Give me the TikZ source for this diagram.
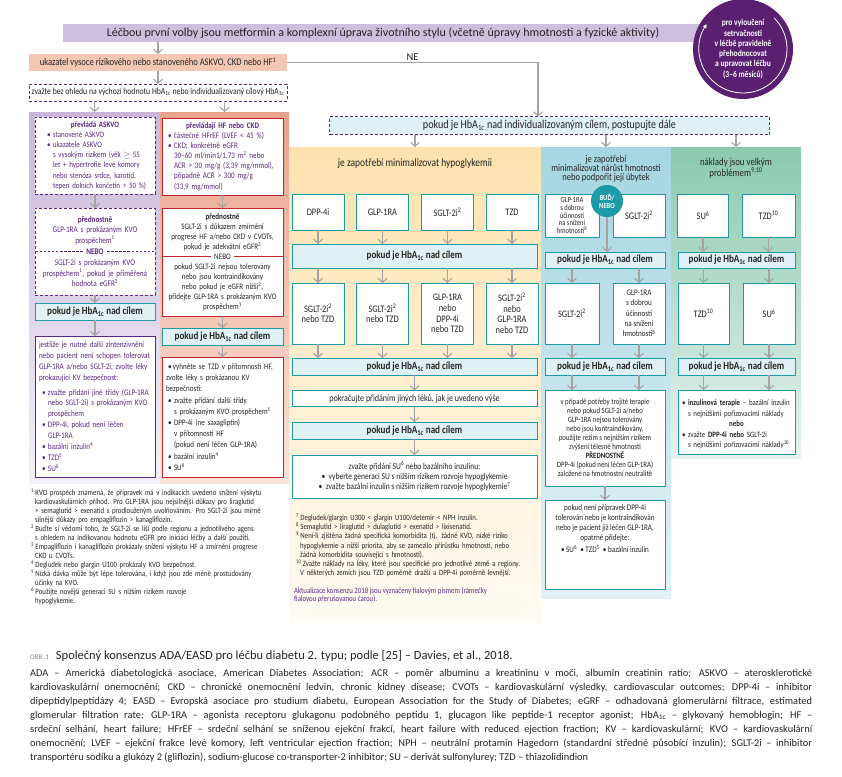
\documentclass[tikz,border=0pt]{standalone}
\usepackage{fontspec}
\setmainfont{Carlito}[FakeStretch=0.84]
\newfontfamily\widefont{Carlito}
\usetikzlibrary{arrows.meta}

\definecolor{lavc}{HTML}{CDBFDE}
\definecolor{circc}{HTML}{5A1F70}
\definecolor{salc}{HTML}{F4C7B5}
\definecolor{purpc}{HTML}{5A2882}
\definecolor{tealc}{HTML}{1C9AA6}
\definecolor{cyanl}{HTML}{DFF1F4}
\definecolor{redc}{HTML}{C1272D}
\definecolor{arrowc}{HTML}{A3A3A3}
\definecolor{txtc}{HTML}{232323}
\definecolor{lavtop}{HTML}{C8B7DB}
\definecolor{lavbot}{HTML}{F4F0F8}
\definecolor{saltop}{HTML}{E9A38C}
\definecolor{salbot}{HTML}{FBE3DA}
\definecolor{yeltop}{HTML}{FDE2AE}
\definecolor{yelbot}{HTML}{FFFBF3}
\definecolor{blutop}{HTML}{A5D6E1}
\definecolor{blubot}{HTML}{E2F1F5}
\definecolor{grntop}{HTML}{8BC9AF}
\definecolor{grnbot}{HTML}{E6F2EE}

\newcommand\fs[2]{\fontsize{#1}{#2}\selectfont}
\newcommand\hba{HbA\textsubscript{1c}}
\newcommand\sups[1]{\textsuperscript{#1}}
\newcommand\itm[1][0pt]{\par\noindent\hangindent=\dimexpr#1+6pt\relax\hangafter=1\hspace*{#1}\makebox[6pt][l]{\textbullet}}
\newcommand\dashfill{\xleaders\hbox to 4pt{\hss\rule[2.6pt]{2.5pt}{0.7pt}\hss}\hfill}
\newcommand\solidfill{\leaders\hrule height 3.1pt depth -2.5pt\hfill}
\newcommand\fnote[1]{\par\noindent\hangindent=4pt\hangafter=1\textsuperscript{#1}\,}

\begin{document}
\begin{tikzpicture}[x=1pt, y=-1pt,
    boxbase/.style = {inner sep=0pt, outer sep=0pt, line width=0.9pt, align=center, text=txtc},
    wh/.style 2 args = {minimum width=#1pt, minimum height=#2pt},
    tealbox/.style = {boxbase, draw=tealc, fill=cyanl, font=\bfseries\fs{10.8}{12}},
    whitebox/.style = {boxbase, draw=tealc, fill=white, font=\fs{10}{10.7}},
    dashbox/.style = {boxbase, draw=purpc, fill=white, dash pattern=on 3pt off 2pt},
    redbox/.style = {boxbase, draw=redc, fill=white},
    purbox/.style = {boxbase, draw=purpc, fill=white},
    colbg/.style = {inner sep=0pt, outer sep=0pt},
    arr/.style = {draw=arrowc, line width=1.1pt, -{Straight Barb[length=4pt, width=9pt]}},
    note/.style = {inner sep=0pt, anchor=north west, align=left, text=txtc}]
\useasboundingbox (0,0) rectangle (842,776);

% column backgrounds
\node[colbg, wh={131}{371}, top color=lavtop, bottom color=lavbot] (colL) at (94.5,297.5) {};
\node[colbg, wh={129}{371}, top color=saltop, bottom color=salbot] (colR) at (224.5,297.5) {};
\node[colbg, wh={252}{475}, top color=yeltop, bottom color=yelbot] (colY) at (415,384.5) {};
\node[colbg, wh={130}{451}, top color=blutop, bottom color=blubot] (colB) at (606,372.5) {};
\node[colbg, wh={130}{311}, top color=grntop, bottom color=grnbot] (colG) at (736,302.5) {};

% top
\node[boxbase, fill=lavc, wh={637}{18}] (vol) at (381.5,33) {};
\node[inner sep=0pt, text=txtc, font=\widefont\fs{12}{13}] (voltxt) at (383,33)
  {Léčbou první volby jsou metformin a komplexní úprava životního stylu (včetně úpravy hmotnosti a fyzické aktivity)};
\node[circle, fill=circc, minimum size=100pt, inner sep=0pt, text=white, align=center,
      font=\bfseries\fs{9}{10.3}] (rev) at (743,49)
  {pro vyloučení\\ setrvačnosti\\ v léčbě pravidelně\\ přehodnocovat\\ a upravovat léčbu\\ (3–6 měsíců)};
\draw[white, line width=0.8pt, -{Stealth[length=4pt, width=4.5pt]}]
  ([shift={(-45:44)}]rev.center) arc[start angle=-45, end angle=214, radius=44];

\node[boxbase, fill=salc, wh={258}{17}, font=\fs{10.2}{12}] (ukaz) at (158,62.5)
  {ukazatel vysoce rizikového nebo stanoveného ASKVO, CKD nebo HF\sups{1}};
\node[dashbox, wh={258}{17}, font=\fs{9.2}{11}] (zvaz) at (158,92.5)
  {zvažte bez ohledu na výchozí hodnotu \hba{} nebo individualizovaný cílový \hba};
\node[dashbox, fill=cyanl, wh={440}{18}, font=\fs{12}{12}] (pokudInd) at (549.5,125.5)
  {pokud je \hba{} nad individualizovaným cílem, postupujte dále};

% ASKVO column
\node[dashbox, wh={120}{77}, inner xsep=3pt, text width=114pt, align=left, text=purpc,
      font=\fs{8.3}{10.2}] (askvo) at (95,155.5)
  {\centerline{\bfseries převládá ASKVO}
   \itm[9pt]stanovené ASKVO
   \itm[9pt]ukazatele ASKVO\newline s vysokým rizikem (věk $\geq$ 55\newline let + hypertrofie levé komory\newline
     nebo stenóza srdce, karotid,\newline tepen dolních končetin >~50~\%)\par};
\node[dashbox, wh={120}{87}, text width=120pt, text=purpc, font=\fs{8.6}{10.8}] (pred1) at (95,251.5)
  {\textbf{přednostně}\\ GLP-1RA s prokázaným KVO\\ prospěchem\sups{1}\\
   \makebox[\linewidth]{\dashfill\ \textbf{NEBO}\ \dashfill}\\
   SGLT-2i s prokázaným KVO\\ prospěchem\sups{1}, pokud je přiměřená\\ hodnota eGFR\sups{2}};
\node[tealbox, wh={120}{17}] (pokudL1) at (95,311.5) {pokud je \hba{} nad cílem};
\node[purbox, wh={120}{141}, inner xsep=4pt, text width=112pt, align=left, text=purpc,
      font=\fs{8.5}{10.9}] (intensL) at (95,406.5)
  {jestliže je nutné další zintenzivnění\\ nebo pacient není schopen tolerovat\\
   GLP-1RA a/nebo SGLT-2i, zvolte léky\\ prokazující KV bezpečnost:\par\vspace{4pt}
   \itm[3pt]zvažte přidání jiné třídy (GLP-1RA\newline nebo SGLT-2i) s prokázaným KVO\newline prospěchem
   \itm[3pt]DPP-4i, pokud není léčen\newline GLP-1RA
   \itm[3pt]bazální inzulin\sups{4}
   \itm[3pt]TZD\sups{5}
   \itm[3pt]SU\sups{6}\par};

% HF / CKD column
\node[redbox, wh={121}{77}, inner xsep=4pt, text width=113pt, align=left, text=purpc,
      font=\fs{8.5}{10.1}] (hfckd) at (222.5,156.5)
  {\centerline{\bfseries převládají HF nebo CKD}
   \itm[2pt]částečné HFrEF (LVEF < 45~\%)
   \itm[2pt]CKD; konkrétně eGFR\newline 30–60 ml/min1/1,73 m\sups{2} nebo\newline ACR > 30 mg/g (3,39 mg/mmol),\newline
     případně ACR > 300 mg/g\newline (33,9 mg/mmol)\par};
\node[redbox, wh={121}{108}, text width=121pt, font=\fs{8.4}{10}] (pred2) at (222.5,262)
  {\textbf{přednostně}\\ SGLT-2i s důkazem zmírnění\\ progrese HF a/nebo CKD v CVOTs,\\ pokud je adekvátní eGFR\sups{3}\\
   \makebox[\linewidth]{{\color{redc}\solidfill}\ NEBO\ {\color{redc}\solidfill}}\\
   pokud SGLT-2i nejsou tolerovány\\ nebo jsou kontraindikovány\\ nebo pokud je eGFR nižší\sups{2},\\
   přidejte GLP-1RA s prokázaným KVO\\ prospěchem\sups{1}};
\node[tealbox, wh={121}{17}] (pokudR1) at (222.5,336.5) {pokud je \hba{} nad cílem};
\node[redbox, wh={121}{120}, inner xsep=4pt, text width=113pt, align=left, font=\fs{8.4}{11.2}] (avoid) at (222.5,417)
  {\noindent\hspace*{2pt}\makebox[5pt][l]{\textbullet}vyhněte se TZD v přítomnosti HF,\\ zvolte léky s prokázanou KV\\ bezpečností:
   \itm[2pt]zvažte přidání další třídy\newline s prokázaným KVO prospěchem\sups{1}
   \itm[2pt]DPP-4i (ne saxagliptin)\newline v přítomnosti HF\newline (pokud není léčen GLP-1RA)
   \itm[2pt]bazální inzulin\sups{4}
   \itm[2pt]SU\sups{6}\par};

% hypoglykemie column
\node[inner sep=0pt, text=txtc, font=\fs{11.3}{12}] (hdrY) at (415,164) {je zapotřebí minimalizovat hypoglykemii};
\node[whitebox, wh={52}{36}] (y1a) at (318,212) {DPP-4i};
\node[whitebox, wh={52}{36}] (y1b) at (382.5,212) {GLP-1RA};
\node[whitebox, wh={52}{36}] (y1c) at (447.5,212) {SGLT-2i\sups{2}};
\node[whitebox, wh={52}{36}] (y1d) at (512,212) {TZD};
\node[tealbox, wh={245}{24}] (pokudY1) at (414.5,256) {pokud je \hba{} nad cílem};
\node[whitebox, wh={52}{61}] (y2a) at (318,313.5) {SGLT-2i\sups{2}\\ nebo TZD};
\node[whitebox, wh={52}{61}] (y2b) at (382.5,313.5) {SGLT-2i\sups{2}\\ nebo TZD};
\node[whitebox, wh={52}{61}] (y2c) at (447.5,313.5) {GLP-1RA\\ nebo\\ DPP-4i\\ nebo TZD};
\node[whitebox, wh={52}{61}] (y2d) at (512,313.5) {SGLT-2i\sups{2}\\ nebo\\ GLP-1RA\\ nebo TZD};
\node[tealbox, wh={245}{17}] (pokudY2) at (414.5,366.5) {pokud je \hba{} nad cílem};
\node[whitebox, wh={245}{16}, font=\fs{9.6}{10}] (contY) at (414.5,398.5) {pokračujte přidáním jiných léků, jak je uvedeno výše};
\node[tealbox, wh={245}{17}] (pokudY3) at (414.5,430.5) {pokud je \hba{} nad cílem};
\node[whitebox, wh={245}{43}, font=\fs{9}{10.2}] (suY) at (414.5,476.5)
  {zvažte přidání SU\sups{6} nebo bazálního inzulinu:\\
   \textbullet\ \ vyberte generaci SU s nižším rizikem rozvoje hypoglykemie\\
   \textbullet\ \ zvažte bazální inzulin s nižším rizikem rozvoje hypoglykemie\sups{7}};
\node[note, text width=270pt, font=\fs{8.1}{9.2}] (notesM) at (296,511)
  {\fnote{7}Degludek/glargin U300 < glargin U100/detemir < NPH inzulin.
   \fnote{8}Semaglutid > liraglutid > dulaglutid > exenatid > lixisenatid.
   \fnote{9}Není-li zjištěna žádná specifická komorbidita (tj. žádné KVO, nízké riziko\newline
     hypoglykemie a nižší priorita, aby se zamezilo přírůstku hmotnosti, nebo\newline
     žádná komorbidita související s hmotností).
   \fnote{10}Zvažte náklady na léky, které jsou specifické pro jednotlivé země a regiony.\newline
     V některých zemích jsou TZD poměrně dražší a DPP-4i poměrně levnější.\par};
\node[note, text=purpc, font=\fs{8.1}{8.8}] (akt) at (294,587)
  {Aktualizace konsenzu 2018 jsou vyznačeny fialovým písmem (rámečky\\ fialovou přerušovanou čarou).};

% hmotnost column
\node[inner sep=0pt, align=center, text=txtc, font=\fs{10.1}{9.2}] (hdrB) at (606,169)
  {je zapotřebí\\ minimalizovat nárůst hmotnosti\\ nebo podpořit její úbytek};
\node[whitebox, wh={54}{43}, font=\fs{7.8}{7.8}] (b1a) at (572,215.5)
  {GLP-1RA\\ s dobrou\\ účinností\\ na snížení\\ hmotnosti\sups{8}};
\node[whitebox, wh={52}{43}] (b1b) at (639,215.5) {SGLT-2i\sups{2}};
\node[circle, fill=tealc, minimum size=32pt, inner sep=0pt, text=white, align=center,
      font=\bfseries\fs{7.8}{8}] (bud) at (607,201) {BUĎ/\\NEBO};
\node[tealbox, wh={120}{16}] (pokudB1) at (605,260) {pokud je \hba{} nad cílem};
\node[whitebox, wh={54}{61}] (b2a) at (572,313.5) {SGLT-2i\sups{2}};
\node[whitebox, wh={52}{61}, font=\fs{8.5}{10.3}] (b2b) at (639,313.5)
  {GLP-1RA\\ s dobrou\\ účinností\\ na snížení\\ hmotnosti\sups{8}};
\node[tealbox, wh={120}{17}] (pokudB2) at (605,366.5) {pokud je \hba{} nad cílem};
\node[whitebox, wh={120}{96}, font=\fs{8.1}{9}] (tripB) at (605,438)
  {v případě potřeby trojité terapie\\ nebo pokud SGLT-2i a/nebo\\ GLP-1RA nejsou tolerovány\\
   nebo jsou kontraindikovány,\\ použijte režim s nejnižším rizikem\\ zvýšení tělesné hmotnosti\\
   \textbf{PŘEDNOSTNĚ}\\ DPP-4i (pokud není léčen GLP-1RA)\\ založené na hmotnostní neutralitě};
\node[whitebox, wh={120}{89}] (dppB) at (605,544.5) {};
\node[inner sep=0pt, anchor=north, align=center, text=txtc, font=\fs{8.5}{10}] (dppT) at ([yshift=-4pt]dppB.north)
  {pokud není přípravek DPP-4i\\ tolerován nebo je kontraindikován\\ nebo je pacient již léčen GLP-1RA,\\
   opatrně přidejte:\\[2pt] \textbullet\ SU\sups{6}\ \ \textbullet\ TZD\sups{5}\ \ \textbullet\ bazální inzulin};

% naklady column
\node[inner sep=0pt, align=center, text=txtc, font=\fs{10.5}{10}] (hdrG) at (736,168)
  {náklady jsou velkým\\ problémem\sups{9,10}};
\node[whitebox, wh={51}{43}] (g1a) at (703,215.5) {SU\sups{6}};
\node[whitebox, wh={53}{43}] (g1b) at (768.5,215.5) {TZD\sups{10}};
\node[tealbox, wh={117}{16}] (pokudG1) at (736.5,260) {pokud je \hba{} nad cílem};
\node[whitebox, wh={51}{61}] (g2a) at (703.5,313.5) {TZD\sups{10}};
\node[whitebox, wh={52}{61}] (g2b) at (769,313.5) {SU\sups{6}};
\node[tealbox, wh={117}{17}] (pokudG2) at (736.5,366.5) {pokud je \hba{} nad cílem};
\node[whitebox, wh={117}{64}, inner xsep=3pt, text width=111pt, align=left, font=\fs{8.2}{10.5}] (insG) at (736.5,422)
  {\itm[1pt]\textbf{inzulinová terapie} – bazální inzulin\newline s nejnižšími pořizovacími náklady
   \par\centerline{\textbf{nebo}}
   \itm[1pt]zvažte \textbf{DPP-4i nebo} SGLT-2i\newline s nejnižšími pořizovacími náklady\sups{10}\par};

% footnotes and caption
\node[note, text width=262pt, font=\fs{8.1}{9}] (notesL) at (31,486)
  {\fnote{1}KVO prospěch znamená, že přípravek má v indikacích uvedeno snížení výskytu\newline
     kardiovaskulárních příhod. Pro GLP-1RA jsou nejsilnější důkazy pro liraglutid\newline
     > semaglutid > exenatid s prodlouženým uvolňováním. Pro SGLT-2i jsou mírně\newline
     silnější důkazy pro empagliflozin > kanagliflozin.
   \fnote{2}Buďte si vědomi toho, že SGLT-2i se liší podle regionu a jednotlivého agens\newline
     s ohledem na indikovanou hodnotu eGFR pro iniciaci léčby a další použití.
   \fnote{3}Empagliflozin i kanagliflozin prokázaly snížení výskytu HF a zmírnění progrese\newline
     CKD u CVOTs.
   \fnote{4}Degludek nebo glargin U100 prokázaly KVO bezpečnost.
   \fnote{5}Nízká dávka může být lépe tolerována, i když jsou zde méně prostudovány\newline
     účinky na KVO.
   \fnote{6}Použijte novější generaci SU s nižším rizikem rozvoje\newline hypoglykemie.\par};
\node[inner sep=0pt, anchor=base west, text=txtc] (cap) at (30,659)
  {{\widefont\fs{7}{8}\color{gray}OBR.\,1}\hspace{7pt}{\widefont\fs{12.5}{14}Společný konsenzus ADA/EASD pro léčbu diabetu 2. typu; podle [25] – Davies, et al., 2018.}};
\node[note, text width=782pt, align=justify, font=\widefont\fs{10.4}{14}] (legend) at (30,669)
  {ADA – Americká diabetologická asociace, American Diabetes Association; ACR – poměr albuminu a kreatininu v moči, albumin creatinin ratio; ASKVO – aterosklerotické\linebreak
   kardiovaskulární onemocnění; CKD – chronické onemocnění ledvin, chronic kidney disease; CVOTs – kardiovaskulární výsledky, cardiovascular outcomes; DPP-4i – inhibitor\linebreak
   dipeptidylpeptidázy 4; EASD – Evropská asociace pro studium diabetu, European Association for the Study of Diabetes; eGRF – odhadovaná glomerulární filtrace, estimated\linebreak
   glomerular filtration rate; GLP-1RA – agonista receptoru glukagonu podobného peptidu 1, glucagon like peptide-1 receptor agonist; \hba{} – glykovaný hemoblogin; HF –\linebreak
   srdeční selhání, heart failure; HFrEF – srdeční selhání se sníženou ejekční frakcí, heart failure with reduced ejection fraction; KV – kardiovaskulární; KVO – kardiovaskulární\linebreak
   onemocnění; LVEF – ejekční frakce levé komory, left ventricular ejection fraction; NPH – neutrální protamin Hagedorn (standardní středně působící inzulin); SGLT-2i – inhibitor\linebreak
   transportéru sodíku a glukózy 2 (gliflozin), sodium-glucose co-transporter-2 inhibitor; SU – derivát sulfonylurey; TZD – thiazolidindion\par};

% connectors
\draw[arr] (vol.south -| ukaz) -- (ukaz.north);
\draw[arr] (ukaz) -- (zvaz);
\draw[arr] (ukaz.east) -| ([xshift=-11.5pt]pokudInd.north)
  node[pos=0.25, above=1pt, inner sep=0pt, text=txtc, font=\widefont\fs{10.5}{12}] (ne) {NE};
\draw[arr] (zvaz.south -| colL) -- (colL.north);
\draw[arr] (zvaz.south -| colR) -- (colR.north);
\draw[arr] (askvo) -- (pred1);
\draw[arr] (pred1) -- (pokudL1);
\draw[arr] (pokudL1) -- (intensL);
\draw[arr] (hfckd) -- (pred2);
\draw[arr] (pred2) -- (pokudR1);
\draw[arr] (pokudR1) -- (avoid);
\draw[arr] (pokudInd.south -| colY) -- (colY.north);
\draw[arr] (pokudInd.south -| colB) -- (colB.north);
\draw[arr] (pokudInd.south -| colG) -- (colG.north);
\foreach \n in {y1a,y1b,y1c,y1d}
  \draw[arr] (\n) -- (\n |- pokudY1.north);
\foreach \n in {y2a,y2b,y2c,y2d} {
  \draw[arr] (pokudY1.south -| \n) -- (\n);
  \draw[arr] (\n) -- (\n |- pokudY2.north);
}
\draw[arr] (pokudY2) -- (contY);
\draw[arr] (contY) -- (pokudY3);
\draw[arr] (pokudY3) -- (suY);
\draw[arr] (bud) -- (bud |- pokudB1.north);
\foreach \n in {b2a,b2b} {
  \draw[arr] (pokudB1.south -| \n) -- (\n);
  \draw[arr] (\n) -- (\n |- pokudB2.north);
  \draw[arr] (pokudB2.south -| \n) -- (\n |- tripB.north);
}
\draw[arr] (tripB) -- (dppB);
\foreach \n in {g1a,g1b}
  \draw[arr] (\n) -- (\n |- pokudG1.north);
\foreach \n in {g2a,g2b} {
  \draw[arr] (pokudG1.south -| \n) -- (\n);
  \draw[arr] (\n) -- (\n |- pokudG2.north);
  \draw[arr] (pokudG2.south -| \n) -- (\n |- insG.north);
}
\end{tikzpicture}
\end{document}
